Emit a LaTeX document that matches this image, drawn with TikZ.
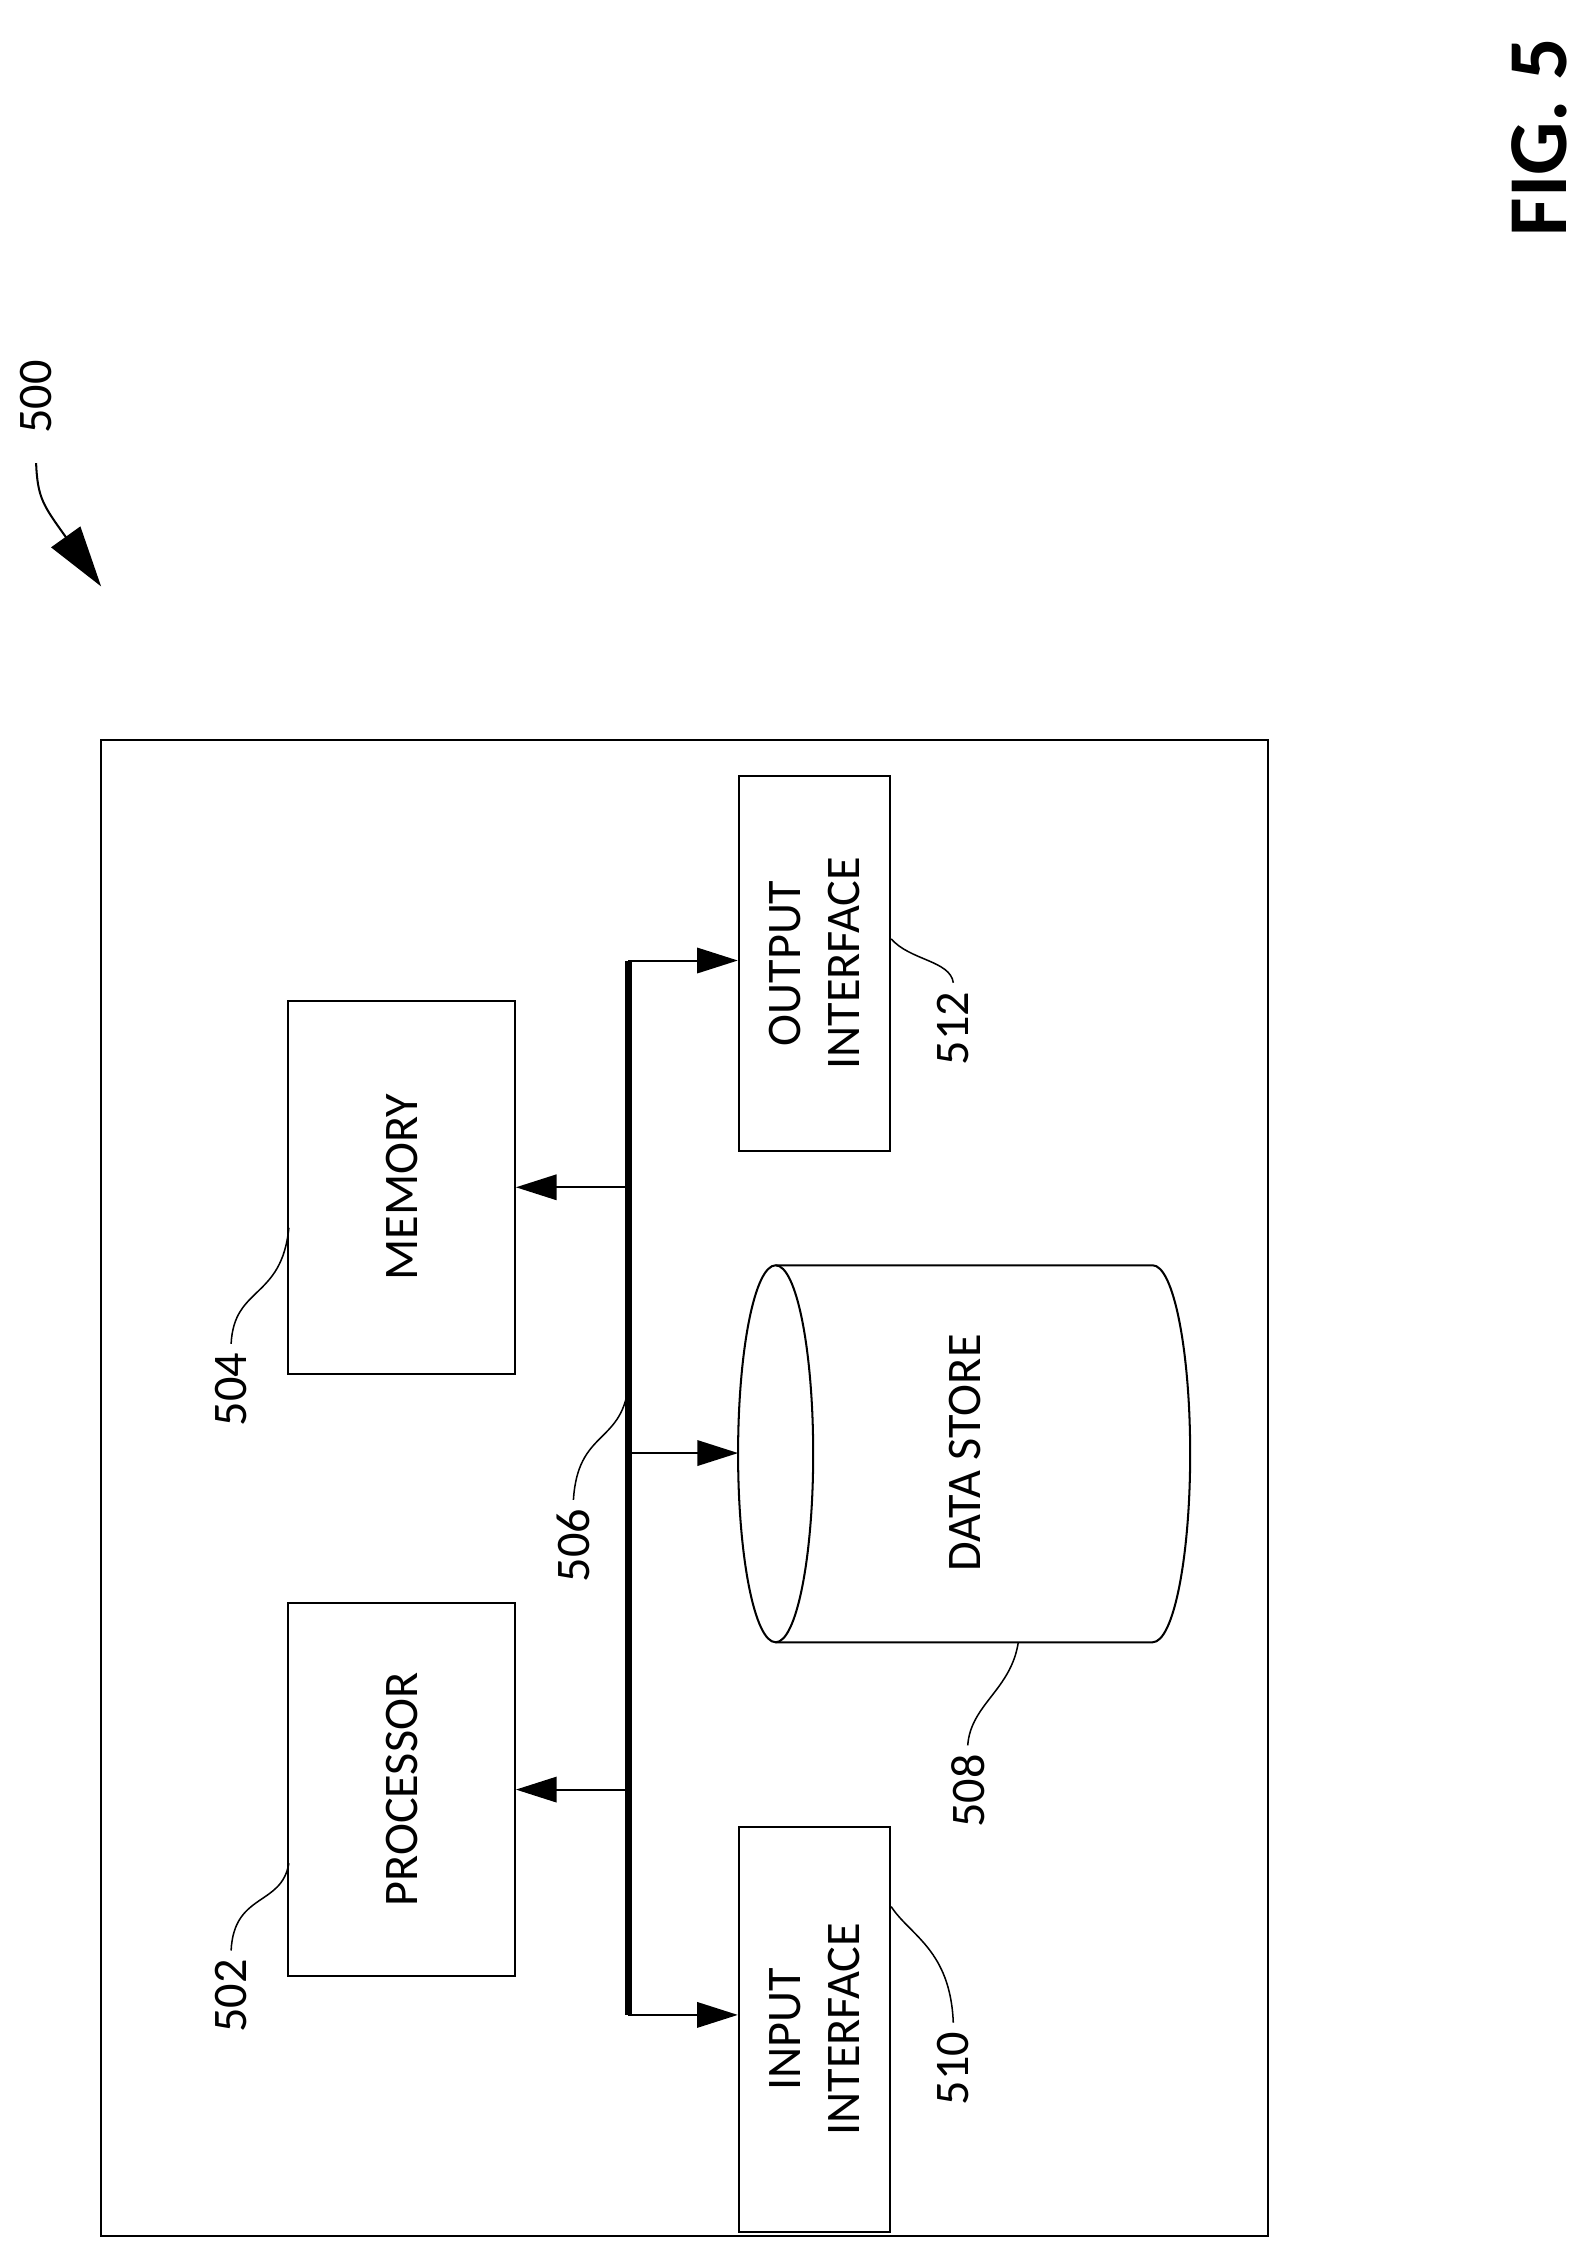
\documentclass[tikz,border=0pt]{standalone}
\usepackage{fontspec}
\setmainfont{Carlito}
\usetikzlibrary{arrows.meta,positioning}
\tikzset{
  block/.style={draw, line width=0.8pt, rotate=90, align=center,
                font=\fontsize{19}{23}\selectfont},
  refnum/.style={rotate=90, font=\fontsize{19}{23}\selectfont},
  bus/.style={line width=3pt},
  busarrow/.style={line width=0.8pt, -{Triangle[length=16pt,width=10pt]}},
  leader/.style={line width=0.6pt}
}
\begin{document}
\begin{tikzpicture}[x=0.02cm, y=-0.02cm]
  \useasboundingbox (0,0) rectangle (1100,1564);

  % frame
  \node (frame) [draw, line width=0.8pt, minimum width=808*0.02cm, minimum height=1036*0.02cm,
                 inner sep=0pt] at (474,1030) {};

  % blocks
  \node (processor) [block, minimum width=258*0.02cm, minimum height=157*0.02cm] at (278,1239) {PROCESSOR};
  \node (memory) [block, minimum width=258*0.02cm, minimum height=157*0.02cm] at (278,822) {MEMORY};
  \node (input) [block, minimum width=280*0.02cm, minimum height=105*0.02cm] at (564,1405) {INPUT\\INTERFACE};
  \node (output) [block, minimum width=260*0.02cm, minimum height=105*0.02cm] at (564,667) {OUTPUT\\INTERFACE};

  % data store
  \draw[line width=0.8pt] (537,876) -- (798,876)
    arc[start angle=90, end angle=-90, x radius=26, y radius=-130.5]
    -- (537,1137);
  \draw[line width=0.8pt] (537,1006.5) ellipse[x radius=26, y radius=130.5];
  \node (store) [refnum] at (668,1006) {DATA STORE};
  \coordinate (store-in) at (511,1006);
  \coordinate (store-lead) at (705,1137);

  % bus
  \coordinate (bus-top) at (435,665);
  \coordinate (bus-bot) at (435,1395);
  \draw[bus] (bus-top) -- (bus-bot);
  \draw[busarrow] (435,1239) -- (processor.south);
  \draw[busarrow] (435,822) -- (memory.south);
  \draw[busarrow] (bus-bot) -- (input.north |- bus-bot);
  \draw[busarrow] (bus-top) -- (output.north |- bus-top);
  \draw[busarrow] (435,1006) -- (store-in);

  % reference numerals
  \node (n502) [refnum] at (160,1382) {502};
  \node (n504) [refnum] at (160,962) {504};
  \node (n506) [refnum] at (397,1070) {506};
  \node (n508) [refnum] at (670,1240) {508};
  \node (n510) [refnum] at (660,1432) {510};
  \node (n512) [refnum] at (660,712) {512};
  \draw[leader] (n502.east) .. controls (162,1310) and (195,1320) .. (200,1290);
  \draw[leader] (n504.east) .. controls (162,890) and (195,900) .. (200,850);
  \draw[leader] (n506.east) .. controls (400,990) and (430,1000) .. (435,960);
  \draw[leader] (n508.east) .. controls (672,1180) and (700,1170) .. (store-lead);
  \draw[leader] (n510.east) .. controls (658,1350) and (630,1340) .. (617,1320);
  \draw[leader] (n512.east) .. controls (658,665) and (630,665) .. (617,650);

  % figure ref
  \node (n500) [refnum] at (25,275) {500};
  \coordinate (fig-tip) at (70,406);
  \draw[line width=0.8pt, -{Triangle[length=24pt,width=14pt]}] (n500.west) ++(0,14)
    .. controls (26,345) and (30,350) .. (fig-tip);
  \node (fig) [rotate=90, font=\fontsize{33}{38}\selectfont\bfseries] at (1066,95) {FIG. 5};
\end{tikzpicture}
\end{document}
